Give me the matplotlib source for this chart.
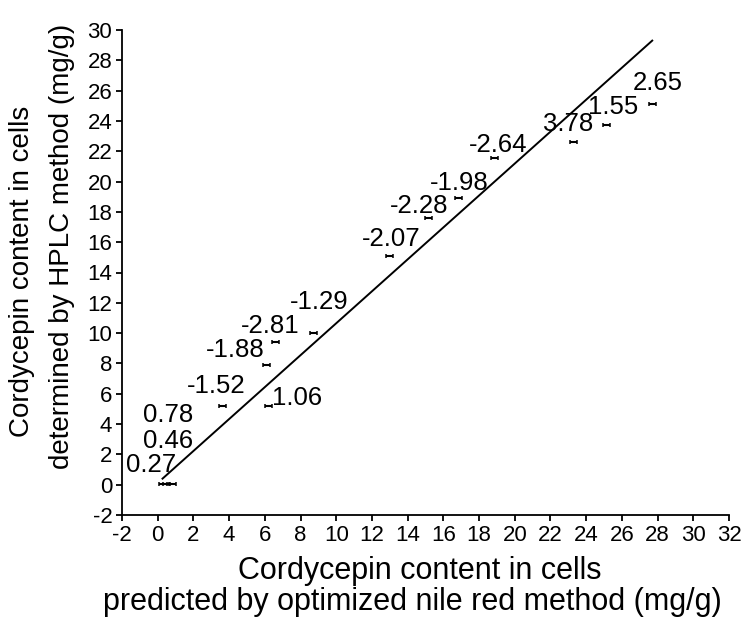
import matplotlib
matplotlib.use("Agg")
import matplotlib.pyplot as plt

plt.rcParams['font.family'] = ['Liberation Sans', 'DejaVu Sans']
plt.rcParams['axes.unicode_minus'] = False

# Cordycepin content (mg/g): predicted by nile red method (x) vs HPLC (y)
predicted = [0.30, 0.50, 0.85, 3.65, 6.20, 6.10, 6.60, 8.74, 13.0, 15.18, 16.86, 18.88, 23.30, 25.15, 27.73]
measured = [0.07, 0.07, 0.07, 5.20, 5.20, 7.92, 9.44, 10.03, 15.10, 17.62, 18.94, 21.58, 22.64, 23.70, 25.15]
predicted_err = [0.2] * 15
labels = ["0.27", "0.46", "0.78", "-1.52", "1.06", "-1.88", "-2.81", "-1.29",
          "-2.07", "-2.28", "-1.98", "-2.64", "3.78", "1.55", "2.65"]

# fitted line end points
fit_x = [0.27, 27.7]
fit_y = [0.40, 29.30]

x_ticks = list(range(-2, 33, 2))
y_ticks = list(range(-2, 31, 2))

# label placement relative to each point (pixels)
label_offsets = [(-12, 21), (1, 45), (-5, 71), (-7, 22), (29, 10), (-31, 17), (-5, 18), (5, 33),
                 (1, 19), (-10, 14), (1, 17), (3, 15), (-6, 20), (6, 20), (5, 23)]

W, H = 744, 619
fig = plt.figure(figsize=(W / 100, H / 100), dpi=100)
ax = fig.add_axes([122 / W, 1 - 515 / H, (729 - 122) / W, (515 - 30) / H])

ax.plot(fit_x, fit_y, color='black', lw=1.4)
ax.errorbar(predicted, measured, xerr=predicted_err, fmt='none', ecolor='black',
            elinewidth=1.5, capsize=1.6, capthick=1.1)

for xv, yv, lab, off in zip(predicted, measured, labels, label_offsets):
    ax.annotate(lab, (xv, yv), xytext=(off[0], off[1] - 2), textcoords='offset pixels',
                ha='center', va='center', fontsize=18.5)

ax.set_xlim(-2, 32)
ax.set_ylim(-2, 30)
ax.set_xticks(x_ticks)
ax.set_yticks(y_ticks)
ax.spines['top'].set_visible(False)
ax.spines['right'].set_visible(False)
for s in ('left', 'bottom'):
    ax.spines[s].set_linewidth(1.3)
ax.tick_params(direction='out', length=4.5, width=1.3, labelsize=16, pad=2.5)

# axis titles, two lines each
fig.text(420 / W, 1 - 571 / H, "Cordycepin content in cells",
         ha='center', va='center', fontsize=22)
fig.text(412 / W, 1 - 602 / H, "predicted by optimized nile red method (mg/g)",
         ha='center', va='center', fontsize=22)
fig.text(22 / W, 1 - 271 / H, "Cordycepin content in cells",
         ha='center', va='center', rotation=90, fontsize=20)
fig.text(62 / W, 1 - 246 / H, "determined by HPLC method (mg/g)",
         ha='center', va='center', rotation=90, fontsize=20)

fig.savefig("out.png", dpi=100)
